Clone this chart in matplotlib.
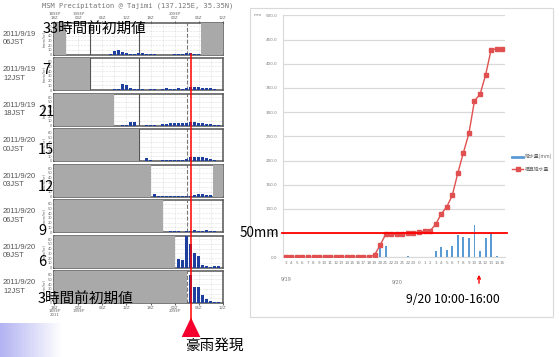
import numpy as np
import matplotlib
matplotlib.use("Agg")
import matplotlib.pyplot as plt
from matplotlib.patches import Rectangle, Polygon
from matplotlib.lines import Line2D

W, H = 559, 357
JP = ['Noto Sans CJK JP', 'DejaVu Sans']

# ---------------- left: MSM hourly precipitation forecasts ----------------
# x axis = hours after 18Z 18SEP 2011
init_labels = ["2011/9/19\n06JST", "2011/9/19\n12JST", "2011/9/19\n18JST", "2011/9/20\n00JST",
               "2011/9/20\n03JST", "2011/9/20\n06JST", "2011/9/20\n09JST", "2011/9/20\n12JST"]
lead_labels = ["33時間前初期値", "7", "21", "15", "12", "9", "6", "3時間前初期値"]
init_hour = [3, 9, 15, 21, 24, 27, 30, 33]
fcst_end = [36.5, 42, 42, 42, 39.6, 42, 42, 42]

rain_p1 = [0, 0, 0, 0, 0, 0, 0, 0, 0, 0, 2, 6.5, 9.5, 4.5, 3, 1.5, 0.3, 3.5, 3, 1, 0.3, 0.5,
           0, 0, 0, 0, 0.3, 1, 2, 2.5, 3, 2, 0.5]
rain_p2 = [0, 0, 0, 0, 0, 1.5, 3, 12.5, 10.5, 4.5, 1.5, 3, 2, 0.5, 2, 2, 1, 3, 3.5, 3, 3, 3.5,
           3, 3.5, 5.5, 6, 5.5, 5, 5, 4, 2.5, 1]
rain_p3 = [0, 2, 0.5, 8, 8, 0, 0, 1.5, 1, 0.5, 0, 3, 4, 5, 5, 5.5, 5.5, 6, 7, 6.5, 5.5, 4.5,
           4, 2.5, 1.5, 0.5]
rain_p4 = [0.5, 5.5, 3, 0.5, 1, 2, 2, 2.5, 2.5, 3, 3, 5, 7.5, 8, 7.5, 7.5, 6, 3.5, 1.5, 0.5]
rain_p5 = [6, 0.5, 1, 1, 1, 1.5, 1.5, 2, 2, 2, 4, 4.5, 4.5, 4, 4]
rain_p6 = [1, 1.5, 1.5, 1.5, 1, 2, 2.5, 3.5, 3, 3, 4.5, 2.5, 1.5, 1]
rain_p7 = [19, 15, 66, 51, 30, 25, 5.5, 3.5, 2, 3, 4]
rain_p8 = [60, 35, 35, 18, 8, 4, 3, 3]
rain = [rain_p1, rain_p2, rain_p3, rain_p4, rain_p5, rain_p6, rain_p7, rain_p8]

top_ticks = ["18SEP\n18Z", "19SEP\n00Z", "06Z", "12Z", "18Z", "20SEP\n00Z", "06Z", "12Z"]
bot_ticks = ["18Z\n18SEP\n2011", "00Z\n19SEP", "06Z", "12Z", "18Z", "00Z\n20SEP", "06Z", "12Z"]

# ---------------- right: observed rainfall at Tajimi ----------------
hour_labels = ['3', '4', '5', '6', '7', '8', '9', '10', '11', '12', '13', '14', '15', '16', '17',
               '18', '19', '20', '21', '22', '23', '21', '22', '23', '0', '1', '2', '3', '4', '5',
               '6', '7', '8', '9', '10', '11', '12', '13', '14', '15']
hourly = [0, 0, 0, 0, 0, 0, 0, 0, 0, 0, 0, 0, 0, 0, 0, 0, 5, 20.5, 23, 0, 0, 0.5, 2, 1, 1, 1.5,
          1, 13.5, 21.5, 14.5, 24, 46, 42, 40, 67.5, 13, 40, 50, 1.8, 0.6]
cumulative = [0, 0, 0, 0, 0, 0, 0, 0, 0, 0, 0, 0, 0, 0, 0, 0, 5, 25, 47.5, 47.5, 47.5, 48, 50,
              51, 52, 53.5, 54.5, 68, 89.5, 104, 128, 174, 216, 256, 323.5, 336.5, 376.5, 429,
              430.5, 431]


def fx(x):
    return x / W


def fy(y):
    return 1 - y / H


fig = plt.figure(figsize=(W / 100, H / 100), dpi=100)

# slide decoration bottom-left
gax = fig.add_axes([0, 0, 62 / W, 34 / H])
grad = np.linspace(0, 1, 100)[None, :, None]
lav = np.array([0.70, 0.70, 0.95])[None, None, :]
gax.imshow(lav + (1 - lav) * grad, aspect='auto', extent=[0, 1, 0, 1])
gax.axis('off')

fig.text(fx(138), fy(6), "MSM Precipitation @ Tajimi (137.125E, 35.35N)", family='DejaVu Sans Mono',
         fontsize=5.1, color='#777777', ha='center', va='center')

for k in range(8):
    top = 22.5 + 35.5 * k
    ax = fig.add_axes([fx(54.3), fy(top + 32), 168.4 / W, 32 / H])
    ax.set_xlim(0, 42)
    ax.set_ylim(0, 68)
    ax.axvspan(0, init_hour[k], color='#a9a9a9', lw=0, zorder=4)
    if fcst_end[k] < 42:
        ax.axvspan(fcst_end[k], 42, color='#a9a9a9', lw=0, zorder=4)
    for gx in range(3, 42, 3):
        if gx in (9, 21, 33):
            continue
        ax.axvline(gx, color='#c0c0c0', lw=0.4, ls=':', zorder=1)
    for gy in range(10, 70, 10):
        ax.axhline(gy, color='#c0c0c0', lw=0.4, ls=':', zorder=1)
    ax.axvline(9, color='#555555', lw=0.8, zorder=2)
    ax.axvline(21, color='#555555', lw=0.8, zorder=2)
    ax.axvline(33, color='#777777', lw=0.8, ls='--', zorder=2)
    xs = init_hour[k] + 1 + np.arange(len(rain[k]))
    ax.bar(xs, rain[k], width=0.9, color='#1f3f9f', zorder=3)
    for s in ax.spines.values():
        s.set_color('#555555')
        s.set_linewidth(1.1)
    ax.set_yticks(range(0, 70, 10))
    ax.tick_params(axis='y', labelsize=2.6, length=1, pad=0.5, colors='#666666')
    ax.set_ylabel("(mm/hr)", fontsize=2.8, color='#666666', labelpad=0.5)
    ax.set_xticks(range(0, 43, 6))
    if k == 0:
        ax.tick_params(axis='x', top=True, bottom=False, labeltop=True, labelbottom=False,
                       labelsize=2.8, length=1.5, pad=0.5, colors='#666666')
        ax.set_xticklabels(top_ticks, linespacing=0.9)
    elif k == 7:
        ax.tick_params(axis='x', labelsize=2.8, length=1.5, pad=0.5, colors='#666666')
        ax.set_xticklabels(bot_ticks, linespacing=0.9)
    else:
        ax.tick_params(axis='x', length=0, labelbottom=False)
    fig.text(fx(3), fy(top + 16), init_labels[k], family='Liberation Sans', fontsize=5.5,
             color='#555555', ha='left', va='center', linespacing=1.25)

lead_pos = [(43, 29), (42, 70), (38, 112), (38, 150), (38, 187), (38, 231), (38, 262), (38, 299)]
for (lx, ly), txt in zip(lead_pos, lead_labels):
    fig.text(fx(lx), fy(ly), txt, family=JP, fontsize=10.5, color='black', ha='left', va='center')

# onset of the heavy rain
fig.add_artist(Line2D([fx(191)] * 2, [fy(54), fy(320)], color='red', lw=1.1))
fig.add_artist(Polygon([(fx(191), fy(317.5)), (fx(181.7), fy(337)), (fx(200.3), fy(337))],
                       closed=True, transform=fig.transFigure, color='#f5002e', lw=0))
fig.text(fx(185), fy(346), "豪雨発現", family=JP, fontsize=10.5, ha='left', va='center')

# ---------------- right chart ----------------
fig.add_artist(Rectangle((fx(250), fy(317)), 303 / W, 309 / H, transform=fig.transFigure,
                         fill=False, edgecolor='#d9d9d9', lw=0.8))
rx = fig.add_axes([fx(283), fy(257.3), 222 / W, 242 / H])
x = np.arange(len(hour_labels))
rx.bar(x, hourly, width=0.35, color='#5b9bd5', zorder=3, label='降水量(mm)')
rx.plot(x, cumulative, color='#e05050', lw=1, marker='s', ms=2.6, zorder=4, label='積算降水量')
rx.set_xlim(-0.5, 39.5)
rx.set_ylim(0, 500)
rx.set_yticks(range(0, 501, 50))
rx.set_yticklabels(["%.1f" % v for v in range(0, 501, 50)])
rx.yaxis.grid(True, color='#d9d9d9', lw=0.9)
rx.set_axisbelow(True)
for side in ('top', 'right'):
    rx.spines[side].set_visible(False)
rx.spines['left'].set_color('#d9d9d9')
rx.spines['bottom'].set_color('#d9d9d9')
rx.set_xticks(x)
rx.set_xticklabels(hour_labels)
rx.tick_params(axis='both', labelsize=3, colors='#7f7f7f', length=0)
rx.tick_params(axis='y', pad=4)
rx.tick_params(axis='x', pad=3)
rx.plot([-0.75, 39.8], [50, 50], color='red', lw=1.3, zorder=5, clip_on=False)
handles = [Line2D([], [], color='#5b9bd5', lw=2), Line2D([], [], color='#e05050', lw=1, marker='s', ms=2.6)]
rx.legend(handles, ['降水量(mm)', '積算降水量'], loc='center left', bbox_to_anchor=(fx(508), fy(163)),
          bbox_transform=fig.transFigure, frameon=False, prop={'family': JP, 'size': 3.5},
          labelcolor='#666666', handlelength=2.2, labelspacing=1.6, handletextpad=0.4)

fig.text(fx(258), fy(15), "mm", fontsize=3, color='#7f7f7f', ha='center', va='center')
fig.text(fx(286), fy(279), "9/19", fontsize=3.5, color='#7f7f7f', ha='center', va='center')
fig.text(fx(397), fy(281.7), "9/20", fontsize=3.5, color='#7f7f7f', ha='center', va='center')
fig.text(fx(240), fy(233.3), "50mm", family=JP, fontsize=9.7, ha='left', va='center')
fig.text(fx(405.7), fy(299.3), "9/20 10:00-16:00", family=JP, fontsize=8.8, ha='left', va='center')
fig.add_artist(matplotlib.patches.FancyArrowPatch((fx(479), fy(286)), (fx(479), fy(272)),
                                                  transform=fig.transFigure, arrowstyle='->',
                                                  mutation_scale=5, color='red', lw=1))

fig.savefig("out.png", dpi=100)
